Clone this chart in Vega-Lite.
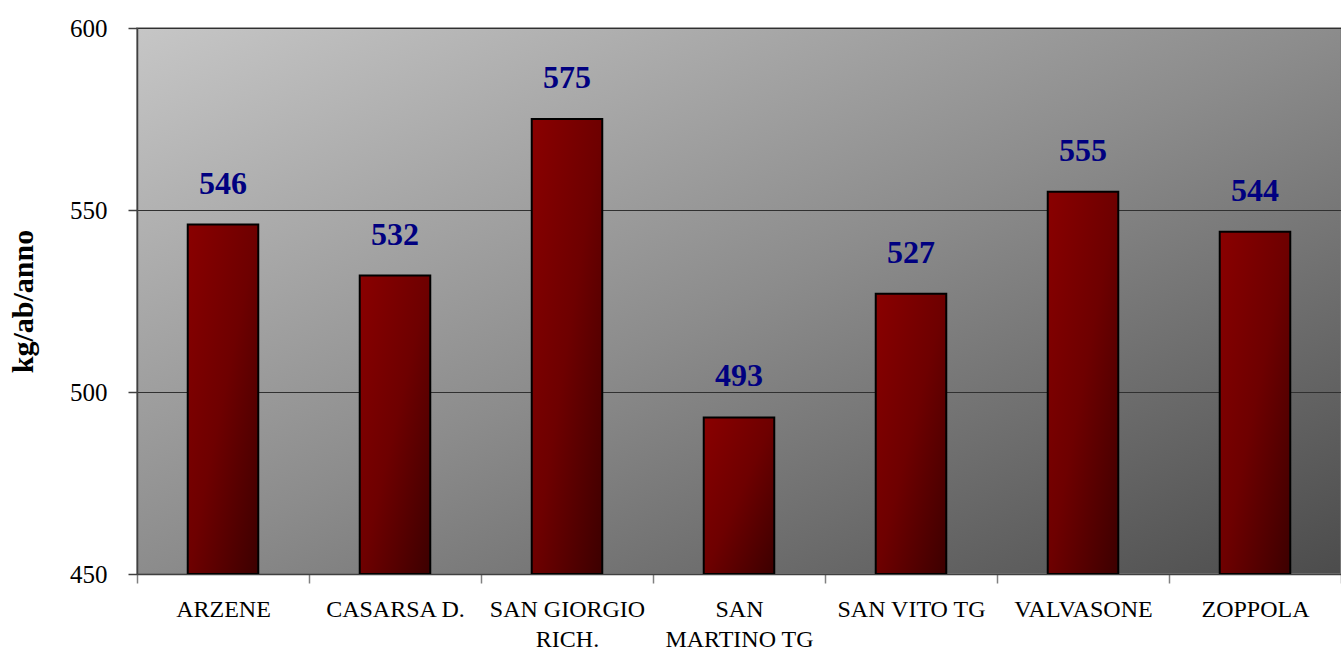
{
  "$schema": "https://vega.github.io/schema/vega-lite/v6.json",
  "width": 1204,
  "height": 546,
  "autosize": {"type": "none"},
  "padding": {"left": 137, "top": 28, "right": 0, "bottom": 78},
  "background": "#ffffff",
  "data": {"values": [
    {"comune": "ARZENE", "valore": 546},
    {"comune": "CASARSA D.", "valore": 532},
    {"comune": "SAN GIORGIO RICH.", "valore": 575},
    {"comune": "SAN MARTINO TG", "valore": 493},
    {"comune": "SAN VITO TG", "valore": 527},
    {"comune": "VALVASONE", "valore": 555},
    {"comune": "ZOPPOLA", "valore": 544}
  ]},
  "view": {
    "fill": {"gradient": "linear", "x1": 0, "y1": 0, "x2": 1, "y2": 1,
      "stops": [{"offset": 0, "color": "#c6c6c6"}, {"offset": 0.5, "color": "#8c8c8c"}, {"offset": 1, "color": "#4c4c4c"}]},
    "stroke": "#808080",
    "strokeWidth": 1.5
  },
  "encoding": {
    "x": {
      "field": "comune", "type": "nominal", "sort": null,
      "scale": {"paddingInner": 0, "paddingOuter": 0},
      "axis": {
        "title": null, "labelAngle": 0,
        "labelFont": "Liberation Serif", "labelFontSize": 24, "labelColor": "#000000",
        "labelBaseline": "top", "labelPadding": 14, "labelLineHeight": 30,
        "labelExpr": "datum.label == 'SAN GIORGIO RICH.' ? ['SAN GIORGIO', 'RICH.'] : datum.label == 'SAN MARTINO TG' ? ['SAN', 'MARTINO TG'] : datum.label",
        "tickBand": "extent", "tickSize": 9, "tickColor": "#808080", "tickWidth": 1.5,
        "domainColor": "#404040", "domainWidth": 1.5,
        "grid": false
      }
    },
    "y": {
      "field": "valore", "type": "quantitative",
      "scale": {"domain": [450, 600], "nice": false, "zero": false},
      "axis": {
        "values": [450, 500, 550, 600],
        "title": "kg/ab/anno", "titleFont": "Liberation Serif", "titleFontSize": 30, "titleFontWeight": "bold",
        "titleColor": "#000000", "titleX": -105, "titleY": 273, "titleBaseline": "alphabetic", "titleAngle": -90,
        "labelFont": "Liberation Serif", "labelFontSize": 25, "labelColor": "#000000", "labelPadding": 21,
        "tickSize": 9, "tickColor": "#404040", "tickWidth": 1.5,
        "domainColor": "#404040", "domainWidth": 1.5,
        "grid": true, "gridColor": "#303030", "gridWidth": 1
      }
    }
  },
  "layer": [
    {
      "mark": {
        "type": "bar", "clip": true, "width": {"band": 0.41},
        "color": {"gradient": "linear", "x1": 0, "y1": 0, "x2": 1, "y2": 1,
          "stops": [{"offset": 0, "color": "#8a0000"}, {"offset": 0.5, "color": "#6e0000"}, {"offset": 1, "color": "#3c0000"}]},
        "stroke": "#000000", "strokeWidth": 2
      },
      "encoding": {"y2": {"datum": 450}}
    },
    {
      "mark": {
        "type": "text", "font": "Liberation Serif", "fontSize": 32, "fontWeight": "bold",
        "color": "#000080", "baseline": "alphabetic", "dy": -31
      },
      "encoding": {"text": {"field": "valore", "type": "quantitative"}}
    }
  ]
}
